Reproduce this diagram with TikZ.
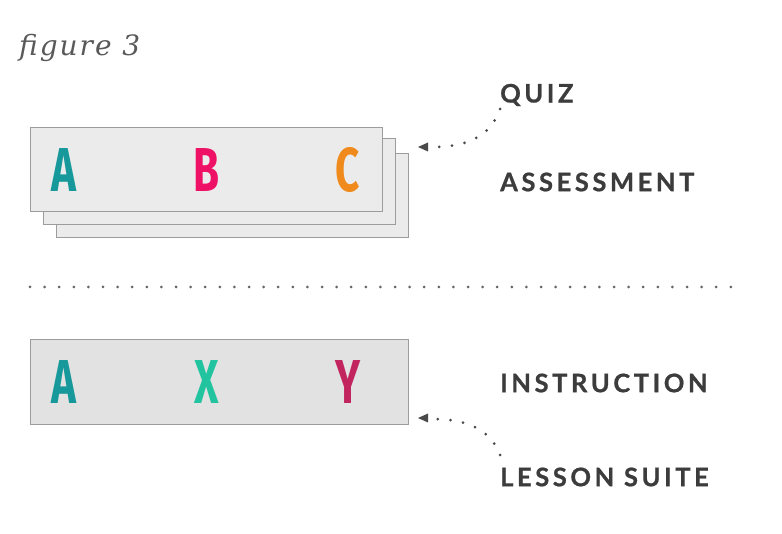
\documentclass[tikz,border=0pt]{standalone}
\usepackage{fontspec}
\usetikzlibrary{arrows.meta}
\setmainfont{Lato}
\newfontfamily\letterfont[FakeStretch=0.68]{Fira Sans}
\newfontfamily\labelfont[LetterSpace=14,FakeBold=0.8]{Lato}
\newfontfamily\figfont[LetterSpace=7]{DejaVu Serif}
\definecolor{boxfill}{HTML}{EBEBEB}
\definecolor{boxfilltwo}{HTML}{E2E2E2}
\definecolor{boxline}{HTML}{9C9C9C}
\definecolor{labelgray}{HTML}{3C3C3C}
\definecolor{dotgray}{HTML}{4A4A4A}
\definecolor{cA}{HTML}{17989A}
\definecolor{cB}{HTML}{EE1166}
\definecolor{cC}{HTML}{F08A1C}
\definecolor{cX}{HTML}{22C4A0}
\definecolor{cY}{HTML}{C2245E}
\begin{document}
\begin{tikzpicture}[x=1pt,y=-1pt,
  card/.style={draw=boxline,line width=1.1pt,fill=boxfill,inner sep=0pt,anchor=north west},
  bigletter/.style={font=\letterfont\bfseries\fontsize{62}{62}\selectfont,inner sep=0pt},
  lbl/.style={font=\labelfont\bfseries\fontsize{25.5}{25.5}\selectfont,text=labelgray,anchor=west,inner sep=0pt},
  dotline/.style={dotgray,line width=3pt,line cap=round,dash pattern=on 0pt off 12.8pt},
  sepline/.style={dotgray!85,line width=3pt,line cap=round,dash pattern=on 0pt off 14.6pt}
]
\useasboundingbox (0,0) rectangle (782,534);
% figure label
\node[font=\figfont\itshape\fontsize{28}{28}\selectfont,text=black!65,anchor=west,inner sep=0pt] (fig) at (19,48) {figure 3};
% stacked cards
\node[card,minimum width=352pt,minimum height=84pt] (c3) at (56,153) {};
\node[card,minimum width=352pt,minimum height=86pt] (c2) at (43,138) {};
\node[card,minimum width=352pt,minimum height=84pt] (c1) at (30,127) {};
\node[bigletter,text=cA] (la) at (64,170) {A};
\node[bigletter,text=cB] (lb) at (207,170) {B};
\node[bigletter,text=cC] (lc) at (348,170) {C};
% lower card
\node[card,fill=boxfilltwo,minimum width=378pt,minimum height=85pt] (c4) at (30,339) {};
\node[bigletter,text=cA] (la2) at (64,382) {A};
\node[bigletter,text=cX] (lx) at (207,382) {X};
\node[bigletter,text=cY] (ly) at (348,382) {Y};
% labels
\node[lbl] (quiz) at (500,95) {QUIZ};
\node[lbl] (assess) at (500,182) {ASSESSMENT};
\node[lbl] (instr) at (500,383) {INSTRUCTION};
\node[lbl] (lesson) at (500,477) {LESSON SUITE};
% separator
\coordinate (sepl) at (30,287);
\coordinate (sepr) at (731,287);
\draw[sepline] (sepl) -- (sepr);
% arrows
\coordinate (qs) at (500,109);
\coordinate (qe) at (418,147);
\draw[dotline] (qs) .. controls (490,138) and (465,147) .. (432,147);
\fill[dotgray] (qe) -- ++(10,-4.5) -- ++(0,9) -- cycle;
\coordinate (ls) at (500,455);
\coordinate (le) at (418,418);
\draw[dotline] (ls) .. controls (490,428) and (465,419) .. (432,419);
\fill[dotgray] (le) -- ++(10,-4.5) -- ++(0,9) -- cycle;
\end{tikzpicture}
\end{document}
